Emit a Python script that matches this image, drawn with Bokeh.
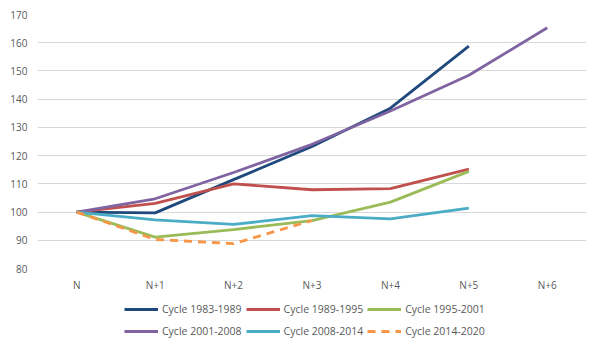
from bokeh.plotting import figure
from bokeh.models import Legend, LegendItem, Range1d
from bokeh.layouts import column
from bokeh.embed import file_html
from bokeh.resources import INLINE

periods = ["N", "N+1", "N+2", "N+3", "N+4", "N+5", "N+6"]
cycle_1983_1989 = [100, 99.7, 111.5, 123.2, 136.8, 158.8]
cycle_1989_1995 = [100, 103.1, 110.0, 107.9, 108.3, 115.2]
cycle_1995_2001 = [100, 91.1, 93.8, 97.0, 103.5, 114.4]
cycle_2001_2008 = [100, 104.7, 114.0, 124.0, 135.8, 148.5, 165.3]
cycle_2008_2014 = [100, 97.2, 95.6, 98.7, 97.6, 101.4]
cycle_2014_2020 = [100, 90.3, 88.8, 97.0]

series = [
    ("Cycle 1983-1989", cycle_1983_1989, "#1F497D", "solid"),
    ("Cycle 1989-1995", cycle_1989_1995, "#C0504D", "solid"),
    ("Cycle 1995-2001", cycle_1995_2001, "#9BBB59", "solid"),
    ("Cycle 2001-2008", cycle_2001_2008, "#8064A2", "solid"),
    ("Cycle 2008-2014", cycle_2008_2014, "#4BACC6", "solid"),
    ("Cycle 2014-2020", cycle_2014_2020, "#F79646", "8 6"),
]

FONT = "Open Sans"
TXT = "#595959"

p = figure(width=600, height=300, x_range=periods, y_range=(80, 170),
           output_backend="svg", toolbar_location=None,
           min_border_left=37, min_border_right=14, min_border_top=14,
           min_border_bottom=32)
p.outline_line_color = None
p.border_fill_color = "white"

# legend strip below the chart (separate figure so nothing gets clipped);
# its y range lies far below the data, so its lines stay out of view
leg = figure(width=600, height=48, x_range=p.x_range, y_range=Range1d(0, 1),
             output_backend="svg", toolbar_location=None,
             x_axis_type=None, y_axis_type=None,
             min_border_left=37, min_border_right=14, min_border_top=0,
             min_border_bottom=0)
leg.outline_line_color = None
leg.xgrid.grid_line_color = None
leg.ygrid.grid_line_color = None

items = []
for name, vals, color, dash in series:
    p.line(periods[:len(vals)], vals, line_color=color, line_width=2.8,
           line_dash=dash, line_join="round")
    r = leg.line(periods[:len(vals)], vals, line_color=color, line_width=2.8,
                 line_dash=dash)
    items.append(LegendItem(label=name, renderers=[r]))

p.xgrid.grid_line_color = None
p.ygrid.grid_line_color = "#D9D9D9"
p.ygrid.grid_line_width = 1
p.yaxis.ticker = list(range(80, 171, 10))

for ax in (p.xaxis[0], p.yaxis[0]):
    ax.axis_line_color = None
    ax.major_tick_line_color = None
    ax.minor_tick_line_color = None
    ax.major_tick_in = 0
    ax.major_tick_out = 0
    ax.major_label_text_color = TXT
    ax.major_label_text_font = FONT
    ax.major_label_text_font_size = "10px"
p.yaxis.major_label_standoff = 10
p.xaxis.major_label_standoff = 9

legend = Legend(items=items, orientation="horizontal", ncols=3,
                location=(87, 8), border_line_color=None,
                background_fill_alpha=0, label_text_font=FONT,
                label_text_font_size="10.5px", label_text_color=TXT,
                glyph_width=34, glyph_height=12, label_standoff=4,
                spacing=4, padding=0, margin=0, label_height=18)
leg.add_layout(legend, "center")

layout = column(p, leg, spacing=0)
open("out.html", "w").write(file_html(layout, INLINE))
